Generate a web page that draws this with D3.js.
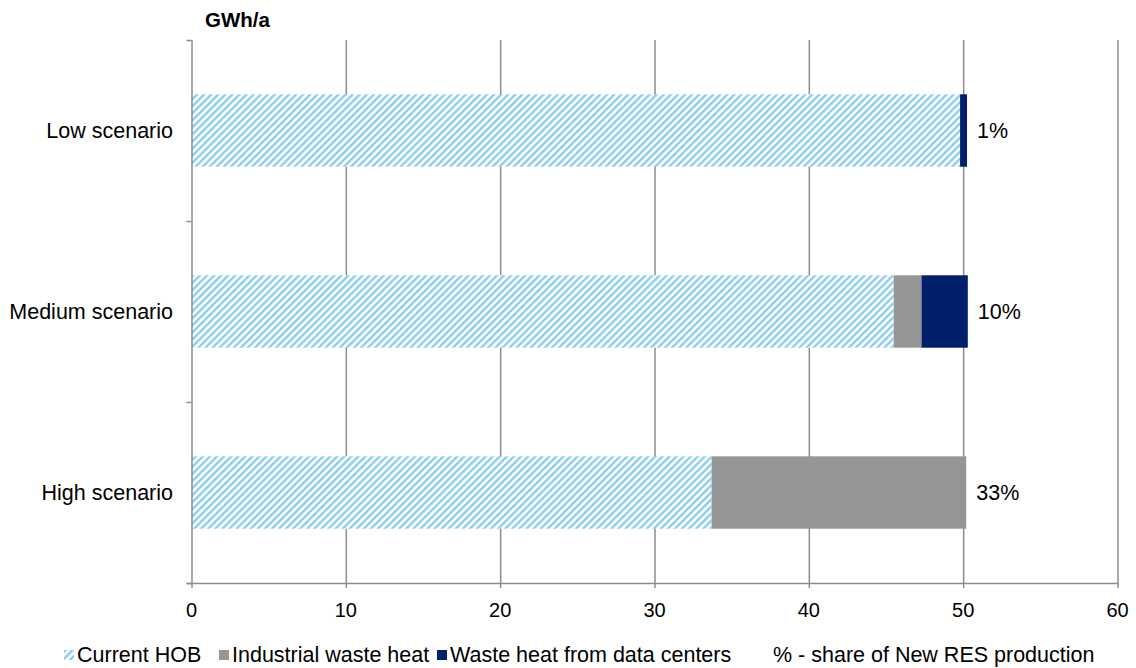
<!DOCTYPE html>
<html><head><meta charset="utf-8">
<script src="https://cdn.jsdelivr.net/npm/d3@7"></script>
<style>body{margin:0;background:#fff;font-family:"Liberation Sans",Arial,sans-serif;}</style>
</head><body>
<svg id="c" width="1136" height="668"></svg>
<script>
const categories = ["Low scenario", "Medium scenario", "High scenario"];
const currentHOB = [49.8, 45.5, 33.7];
const industrialWaste = [0, 1.8, 16.5];
const dataCenters = [0.45, 3.0, 0];
const shareLabels = ["1%", "10%", "33%"];
const seriesNames = ["Current HOB", "Industrial waste heat", "Waste heat from data centers"];
const xTicks = [0, 10, 20, 30, 40, 50, 60];

const svg = d3.select("#c");
const m = {left: 191.5, right: 1117.5, top: 40, bottom: 583};
const x = d3.scaleLinear().domain([0, 60]).range([m.left, m.right]);
const y = d3.scaleBand().domain(categories).range([m.top, m.bottom]).paddingInner(0.6).paddingOuter(0.3);

const defs = svg.append("defs");
const pat = defs.append("pattern").attr("id", "hatch").attr("patternUnits", "userSpaceOnUse")
  .attr("width", 5).attr("height", 5).attr("patternTransform", "rotate(45)");
pat.append("rect").attr("width", 5).attr("height", 5).attr("fill", "#fff");
pat.append("rect").attr("x", 0).attr("width", 2.3).attr("height", 5).attr("fill", "#86cdec");

// grid
svg.append("g").selectAll("line").data(xTicks.slice(1)).join("line")
  .attr("x1", d => x(d) + 0.5).attr("x2", d => x(d) + 0.5)
  .attr("y1", m.top).attr("y2", m.bottom + 5)
  .attr("stroke", "#8c8c8c").attr("stroke-width", 1.5);

// bars
const stacks = categories.map((c, i) => {
  const a = currentHOB[i], b = industrialWaste[i], d = dataCenters[i];
  return [
    {c, x0: 0, x1: a, fill: "url(#hatch)"},
    {c, x0: a, x1: a + b, fill: "#969696"},
    {c, x0: a + b, x1: a + b + d, fill: "#001f6b"}
  ];
}).flat().filter(s => s.x1 > s.x0);
svg.append("g").selectAll("rect").data(stacks).join("rect")
  .attr("x", d => x(d.x0)).attr("width", d => x(d.x1) - x(d.x0))
  .attr("y", d => y(d.c)).attr("height", y.bandwidth())
  .attr("fill", d => d.fill);

const FS = 21.5;
// share labels
svg.append("g").selectAll("text").data(categories).join("text")
  .attr("x", (c, i) => x(currentHOB[i] + industrialWaste[i] + dataCenters[i]) + 10)
  .attr("y", c => y(c) + y.bandwidth() / 2 + 7.5)
  .attr("font-size", FS).attr("fill", "#000")
  .text((c, i) => shareLabels[i]);

// axes
svg.append("line").attr("x1", m.left - 5).attr("x2", m.right + 1).attr("y1", m.bottom + 0.5).attr("y2", m.bottom + 0.5)
  .attr("stroke", "#8c8c8c").attr("stroke-width", 1.5);
svg.append("line").attr("x1", m.left + 0.5).attr("x2", m.left + 0.5).attr("y1", m.top).attr("y2", m.bottom + 5)
  .attr("stroke", "#8c8c8c").attr("stroke-width", 1.5);
const bounds = [m.top, ...categories.slice(1).map(c => y(c) - y.step() * y.paddingInner() / 2), m.bottom];
svg.append("g").selectAll("line").data(bounds).join("line")
  .attr("x1", m.left - 5).attr("x2", m.left).attr("y1", d => d + 0.5).attr("y2", d => d + 0.5)
  .attr("stroke", "#8c8c8c").attr("stroke-width", 1.5);

svg.append("g").selectAll("text").data(xTicks).join("text")
  .attr("x", d => x(d)).attr("y", 617).attr("text-anchor", "middle").attr("font-size", 20)
  .text(d => d);

svg.append("g").selectAll("text").data(categories).join("text")
  .attr("x", 173).attr("y", c => y(c) + y.bandwidth() / 2 + 7.5).attr("text-anchor", "end")
  .attr("font-size", FS).text(c => c);

svg.append("text").attr("x", 205).attr("y", 27).attr("font-size", 20.5).attr("font-weight", "bold").text("GWh/a");

// legend
const lg = svg.append("g").attr("font-size", FS);
const legendItems = [
  {name: seriesNames[0], fill: "url(#hatch)", x: 64},
  {name: seriesNames[1], fill: "#969696", x: 219},
  {name: seriesNames[2], fill: "#001f6b", x: 437}
];
legendItems.forEach(it => {
  lg.append("rect").attr("x", it.x).attr("y", 650).attr("width", 10).attr("height", 10).attr("fill", it.fill);
  lg.append("text").attr("x", it.x + 13).attr("y", 662).text(it.name);
});
lg.append("text").attr("x", 773).attr("y", 662).text("% - share of New RES production");
</script>
</body></html>
